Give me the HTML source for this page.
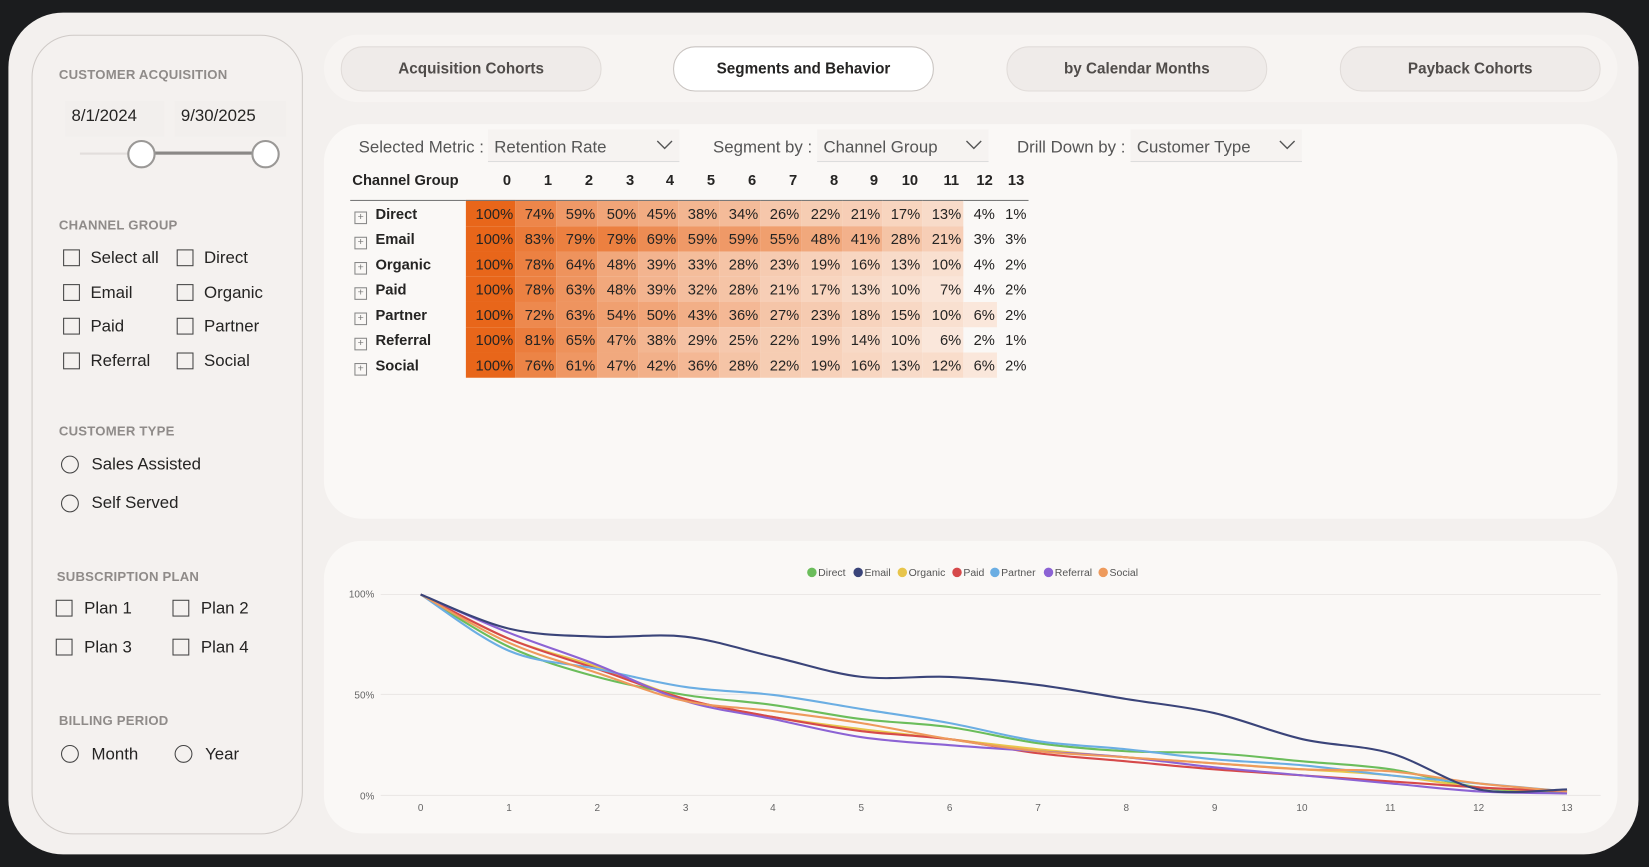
<!DOCTYPE html>
<html><head><meta charset="utf-8">
<style>
html,body{margin:0;padding:0;background:#1b1c1e;width:1649px;height:867px;overflow:hidden;font-family:"Liberation Sans",sans-serif;}
#s{position:absolute;left:0;top:0;width:1568px;height:824px;transform:scale(1.05166,1.0522);transform-origin:0 0;}
.abs{position:absolute;}
.main{left:8px;top:12px;width:1550px;height:800px;background:#f3f0ee;border-radius:52px;}
.side{left:30px;top:33px;width:256px;height:758px;border:1px solid #cfcac7;border-radius:40px;background:#f4f1ef;}
.h{font-size:12.5px;font-weight:bold;color:#8f8b89;letter-spacing:0.2px;}
.t{font-size:16px;color:#252423;}
.cb{width:14px;height:14px;border:1px solid #444;}
.rb{width:15px;height:15px;border:1px solid #444;border-radius:50%;}
.tabbar{left:308px;top:33px;width:1230px;height:64px;background:#f7f4f2;border-radius:32px;}
.tab{top:44px;width:246px;height:41px;border-radius:21px;background:#efebe9;border:1px solid #e1dcd9;font-size:14.5px;font-weight:bold;color:#504c4a;text-align:center;line-height:43px;}
.panel{background:#faf8f6;border-radius:36px;}
.dd{font-size:16px;color:#555;}
.ddbox{height:30px;border-bottom:1px solid #ddd;background:#f6f3f1;}
table{border-collapse:collapse;font-size:14px;color:#252423;}
tr.d{height:24px;}
tr.d td{height:24px;line-height:24px;padding:0 2px 0 0;text-align:right;}
.rl{text-align:left!important;font-weight:bold;padding-left:4px!important;}
.pl{display:inline-block;width:10px;height:10px;border:1px solid #888;font-size:10px;line-height:9px;text-align:center;color:#777;margin-right:8px;vertical-align:-1px;font-weight:normal;}
tr.hd td{text-align:right;padding:4px 4px 0 0;vertical-align:top;}
</style></head><body>
<div id="s">
<div class="abs main"></div>
<div class="abs side"></div>
<div class="abs h" style="left:56px;top:64px;">CUSTOMER ACQUISITION</div>
<div class="abs" style="left:62px;top:96px;width:94px;height:34px;background:#f2efed;"></div>
<div class="abs" style="left:166px;top:96px;width:106px;height:34px;background:#f2efed;"></div>
<div class="abs t" style="left:68px;top:102px;">8/1/2024</div>
<div class="abs t" style="left:172px;top:102px;">9/30/2025</div>
<div class="abs" style="left:76px;top:145px;width:60px;height:2px;background:#e2dedc;"></div>
<div class="abs" style="left:134px;top:144px;width:118px;height:3px;background:#8a8886;"></div>
<div class="abs" style="left:121px;top:133px;width:23px;height:23px;border:2px solid #9a9896;border-radius:50%;background:#fff;"></div>
<div class="abs" style="left:239px;top:133px;width:23px;height:23px;border:2px solid #9a9896;border-radius:50%;background:#fff;"></div>

<div class="abs h" style="left:56px;top:207px;">CHANNEL GROUP</div>
<div class="abs cb" style="left:60px;top:237px"></div><div class="abs t" style="left:86px;top:237px">Select all</div>
<div class="abs cb" style="left:168px;top:237px"></div><div class="abs t" style="left:194px;top:237px">Direct</div>
<div class="abs cb" style="left:60px;top:270px"></div><div class="abs t" style="left:86px;top:270px">Email</div>
<div class="abs cb" style="left:168px;top:270px"></div><div class="abs t" style="left:194px;top:270px">Organic</div>
<div class="abs cb" style="left:60px;top:302px"></div><div class="abs t" style="left:86px;top:302px">Paid</div>
<div class="abs cb" style="left:168px;top:302px"></div><div class="abs t" style="left:194px;top:302px">Partner</div>
<div class="abs cb" style="left:60px;top:335px"></div><div class="abs t" style="left:86px;top:335px">Referral</div>
<div class="abs cb" style="left:168px;top:335px"></div><div class="abs t" style="left:194px;top:335px">Social</div>

<div class="abs h" style="left:56px;top:403px;">CUSTOMER TYPE</div>
<div class="abs rb" style="left:58px;top:433px"></div><div class="abs t" style="left:87px;top:433px">Sales Assisted</div>
<div class="abs rb" style="left:58px;top:470px"></div><div class="abs t" style="left:87px;top:470px">Self Served</div>

<div class="abs h" style="left:54px;top:541px;">SUBSCRIPTION PLAN</div>
<div class="abs cb" style="left:53px;top:570px"></div><div class="abs t" style="left:80px;top:570px">Plan 1</div>
<div class="abs cb" style="left:164px;top:570px"></div><div class="abs t" style="left:191px;top:570px">Plan 2</div>
<div class="abs cb" style="left:53px;top:607px"></div><div class="abs t" style="left:80px;top:607px">Plan 3</div>
<div class="abs cb" style="left:164px;top:607px"></div><div class="abs t" style="left:191px;top:607px">Plan 4</div>

<div class="abs h" style="left:56px;top:678px;">BILLING PERIOD</div>
<div class="abs rb" style="left:58px;top:708px"></div><div class="abs t" style="left:87px;top:709px">Month</div>
<div class="abs rb" style="left:166px;top:708px"></div><div class="abs t" style="left:195px;top:709px">Year</div>

<div class="abs tabbar"></div>
<div class="abs tab" style="left:324px">Acquisition Cohorts</div>
<div class="abs tab" style="left:640px;background:#fff;border-color:#c9c4c1;color:#252423">Segments and Behavior</div>
<div class="abs tab" style="left:957px">by Calendar Months</div>
<div class="abs tab" style="left:1274px">Payback Cohorts</div>

<div class="abs panel" style="left:308px;top:118px;width:1230px;height:375px;"></div>
<div class="abs ddbox" style="left:464px;top:123px;width:182px;"></div>
<div class="abs ddbox" style="left:777px;top:123px;width:163px;"></div>
<div class="abs ddbox" style="left:1075px;top:123px;width:163px;"></div>
<div class="abs dd" style="left:341px;top:132px;">Selected Metric :</div>
<div class="abs dd" style="left:470px;top:132px;">Retention Rate</div>
<div class="abs dd" style="left:678px;top:132px;">Segment by :</div>
<div class="abs dd" style="left:783px;top:132px;">Channel Group</div>
<div class="abs dd" style="left:967px;top:132px;">Drill Down by :</div>
<div class="abs dd" style="left:1081px;top:132px;">Customer Type</div>
<svg class="abs" style="left:0;top:0" width="1568" height="824">
<g fill="none" stroke="#555" stroke-width="1.3"><path d="M625 134l7 7 7-7"/><path d="M919 134l7 7 7-7"/><path d="M1217 134l7 7 7-7"/></g>
</svg>

<table class="abs" id="tb" style="left:333px;top:159px;">
<colgroup><col style="width:110px"><col style="width:47px"><col style="width:39px"><col style="width:39px"><col style="width:39px"><col style="width:38px"><col style="width:39px"><col style="width:39px"><col style="width:39px"><col style="width:39px"><col style="width:38px"><col style="width:38px"><col style="width:39px"><col style="width:32px"><col style="width:30px"></colgroup>
<tr class="hd" style="font-weight:bold;height:31px;border-bottom:1px solid #777;"><td class="rl" style="padding-left:2px!important">Channel Group</td><td>0</td><td>1</td><td>2</td><td>3</td><td>4</td><td>5</td><td>6</td><td>7</td><td>8</td><td>9</td><td>10</td><td>11</td><td>12</td><td>13</td></tr>
<tr class="d"><td class="rl"><span class="pl">+</span>Direct</td><td>100%</td><td>74%</td><td>59%</td><td>50%</td><td>45%</td><td>38%</td><td>34%</td><td>26%</td><td>22%</td><td>21%</td><td>17%</td><td>13%</td><td>4%</td><td>1%</td></tr>
<tr class="d"><td class="rl"><span class="pl">+</span>Email</td><td>100%</td><td>83%</td><td>79%</td><td>79%</td><td>69%</td><td>59%</td><td>59%</td><td>55%</td><td>48%</td><td>41%</td><td>28%</td><td>21%</td><td>3%</td><td>3%</td></tr>
<tr class="d"><td class="rl"><span class="pl">+</span>Organic</td><td>100%</td><td>78%</td><td>64%</td><td>48%</td><td>39%</td><td>33%</td><td>28%</td><td>23%</td><td>19%</td><td>16%</td><td>13%</td><td>10%</td><td>4%</td><td>2%</td></tr>
<tr class="d"><td class="rl"><span class="pl">+</span>Paid</td><td>100%</td><td>78%</td><td>63%</td><td>48%</td><td>39%</td><td>32%</td><td>28%</td><td>21%</td><td>17%</td><td>13%</td><td>10%</td><td>7%</td><td>4%</td><td>2%</td></tr>
<tr class="d"><td class="rl"><span class="pl">+</span>Partner</td><td>100%</td><td>72%</td><td>63%</td><td>54%</td><td>50%</td><td>43%</td><td>36%</td><td>27%</td><td>23%</td><td>18%</td><td>15%</td><td>10%</td><td>6%</td><td>2%</td></tr>
<tr class="d"><td class="rl"><span class="pl">+</span>Referral</td><td>100%</td><td>81%</td><td>65%</td><td>47%</td><td>38%</td><td>29%</td><td>25%</td><td>22%</td><td>19%</td><td>14%</td><td>10%</td><td>6%</td><td>2%</td><td>1%</td></tr>
<tr class="d"><td class="rl"><span class="pl">+</span>Social</td><td>100%</td><td>76%</td><td>61%</td><td>47%</td><td>42%</td><td>36%</td><td>28%</td><td>22%</td><td>19%</td><td>16%</td><td>13%</td><td>12%</td><td>6%</td><td>2%</td></tr>
</table>

<div class="abs panel" style="left:308px;top:514px;width:1230px;height:278px;"></div>
<svg class="abs" style="left:0;top:0" width="1568" height="824" id="ch">
<g stroke="#ebe8e6" stroke-width="1"><line x1="362" y1="565" x2="1522" y2="565"/><line x1="362" y1="660" x2="1522" y2="660"/><line x1="362" y1="756" x2="1522" y2="756"/></g>
<g font-family="Liberation Sans" font-size="9.5" fill="#666" text-anchor="end"><text x="356" y="568">100%</text><text x="356" y="664">50%</text><text x="356" y="760">0%</text></g>
<g font-family="Liberation Sans" font-size="9.5" fill="#666" text-anchor="middle">
<text x="400" y="771">0</text><text x="484" y="771">1</text><text x="568" y="771">2</text><text x="652" y="771">3</text><text x="735" y="771">4</text><text x="819" y="771">5</text><text x="903" y="771">6</text><text x="987" y="771">7</text><text x="1071" y="771">8</text><text x="1155" y="771">9</text><text x="1238" y="771">10</text><text x="1322" y="771">11</text><text x="1406" y="771">12</text><text x="1490" y="771">13</text></g>
<g font-family="Liberation Sans" font-size="10" fill="#555">
<circle cx="772" cy="544" r="4.5" fill="#6bbd5b"/><text x="778" y="547.5">Direct</text>
<circle cx="816" cy="544" r="4.5" fill="#3a4479"/><text x="822" y="547.5">Email</text>
<circle cx="858" cy="544" r="4.5" fill="#e8c54b"/><text x="864" y="547.5">Organic</text>
<circle cx="910" cy="544" r="4.5" fill="#d6494a"/><text x="916" y="547.5">Paid</text>
<circle cx="946" cy="544" r="4.5" fill="#6baee3"/><text x="952" y="547.5">Partner</text>
<circle cx="997" cy="544" r="4.5" fill="#8c63d4"/><text x="1003" y="547.5">Referral</text>
<circle cx="1049" cy="544" r="4.5" fill="#ee9a5c"/><text x="1055" y="547.5">Social</text>
</g>
<g id="lines" fill="none" stroke-width="2"></g>
</svg>
</div>
<script>
var rows=document.querySelectorAll('#tb tr');
for(var r=1;r<rows.length;r++){var c=rows[r].cells;for(var i=1;i<c.length;i++){var v=parseFloat(c[i].textContent)/100;var t=Math.pow(v,0.85);
var a=[252,244,238],b=[232,102,26];if(v<0.05){c[i].style.background='transparent';continue;}
c[i].style.background='rgb('+a.map(function(x,k){return Math.round(x+(b[k]-x)*t)}).join(',')+')';}}
var data={
'#6bbd5b':[100,74,59,50,45,38,34,26,22,21,17,13,4,1],
'#e8c54b':[100,78,64,48,39,33,28,23,19,16,13,10,4,2],
'#d6494a':[100,78,63,48,39,32,28,21,17,13,10,7,4,2],
'#6baee3':[100,72,63,54,50,43,36,27,23,18,15,10,6,2],
'#8c63d4':[100,81,65,47,38,29,25,22,19,14,10,6,2,1],
'#ee9a5c':[100,76,61,47,42,36,28,22,19,16,13,12,6,2],
'#3a4479':[100,83,79,79,69,59,59,55,48,41,28,21,3,3]};
var g=document.getElementById('lines'),ns='http://www.w3.org/2000/svg';
for(var col in data){var d=data[col],p=d.map(function(v,i){return [400+i*83.85,756-v*1.91]});
var s='M'+p[0][0]+' '+p[0][1];
for(var i=0;i<p.length-1;i++){var p0=p[i-1]||p[i],p1=p[i],p2=p[i+1],p3=p[i+2]||p2;
s+=' C'+(p1[0]+(p2[0]-p0[0])/6)+' '+(p1[1]+(p2[1]-p0[1])/6)+' '+(p2[0]-(p3[0]-p1[0])/6)+' '+(p2[1]-(p3[1]-p1[1])/6)+' '+p2[0]+' '+p2[1];}
var e=document.createElementNS(ns,'path');e.setAttribute('d',s);e.setAttribute('stroke',col);g.appendChild(e);}
</script>
</body></html>
